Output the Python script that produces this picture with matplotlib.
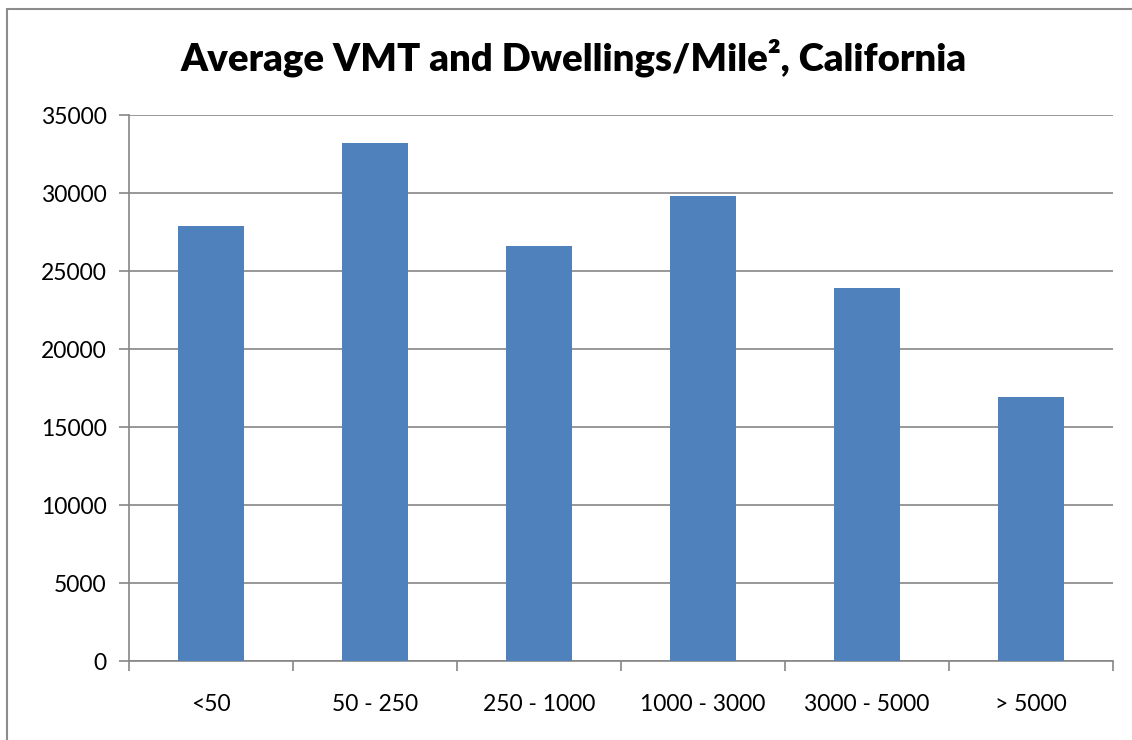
import matplotlib.pyplot as plt
from matplotlib.patches import Rectangle

categories = ['<50', '50 - 250', '250 - 1000', '1000 - 3000', '3000 - 5000', '> 5000']
vmt = [27900, 33200, 26600, 29800, 23900, 16900]
yticks = [0, 5000, 10000, 15000, 20000, 25000, 30000, 35000]

plt.rcParams['font.family'] = ['Lato', 'DejaVu Sans']

fig = plt.figure(figsize=(11.32, 7.4), dpi=100)
W, H = 1132, 740
ax = fig.add_axes([129 / W, 1 - 661 / H, (1113 - 129) / W, (661 - 115) / H])

# outer chart border (clipped at right/bottom like the source)
fig.patches.append(Rectangle((7 / W, -0.1), 1.2, 1 - 9 / H + 0.1, transform=fig.transFigure,
                             fill=False, edgecolor='#8c8c8c', linewidth=1.5))

x = range(len(categories))
ax.bar(x, vmt, width=0.4, color='#4F81BD', zorder=3)

ax.set_xlim(-0.5, len(categories) - 0.5)
ax.set_ylim(0, 35000)
ax.set_yticks(yticks)
ax.set_yticklabels([str(v) for v in yticks], fontsize=16.5)
ax.set_xticks(list(x))
ax.set_xticklabels(categories, fontsize=16.5)
ax.tick_params(axis='x', length=0, pad=24)
ax.set_xticks([i - 0.5 for i in range(len(categories) + 1)], minor=True)
ax.tick_params(axis='x', which='minor', length=7, color='#868686', width=1.2)
ax.tick_params(axis='y', length=7, color='#868686', width=1.2, pad=9)

ax.yaxis.grid(True, color='#868686', linewidth=1.2, zorder=0)
for s in ['top', 'right']:
    ax.spines[s].set_visible(False)
for s in ['left', 'bottom']:
    ax.spines[s].set_color('#868686')
    ax.spines[s].set_linewidth(1.2)

fig.text(574 / W, 1 - 58 / H, 'Average VMT and Dwellings/Mile², California',
         ha='center', va='center', fontsize=27.5, fontweight='heavy')

fig.savefig('out.png', dpi=100)
